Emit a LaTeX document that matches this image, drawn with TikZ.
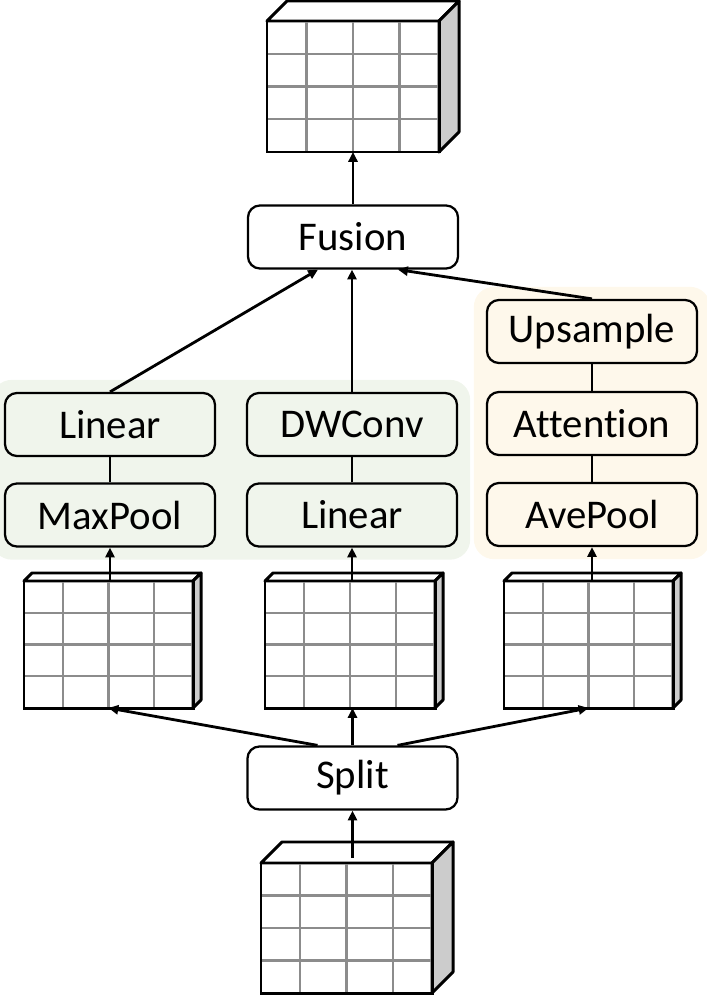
\documentclass[tikz,border=0pt]{standalone}
\usepackage{fontspec}
\setmainfont[Ligatures={NoCommon}]{Carlito}
\usetikzlibrary{arrows.meta, positioning, calc, fit, backgrounds}

\definecolor{grpgreen}{RGB}{240,245,236}
\definecolor{grporange}{RGB}{254,248,235}
\definecolor{sidegray}{RGB}{204,204,204}
\definecolor{gridgray}{RGB}{140,140,140}

% 3D faces and grid of a tensor drawn round its front face node
\newcommand{\tensorfaces}[2]{%
    \filldraw[fill=white, line width=2.1pt, line join=round]
        (#1.north west) -- ++(#2,-#2) -- ($(#1.north east)+(#2,-#2)$) -- (#1.north east) -- cycle;
    \filldraw[fill=sidegray, line width=2.1pt, line join=round]
        (#1.north east) -- ++(#2,-#2) -- ($(#1.south east)+(#2,-#2)$) -- (#1.south east) -- cycle;
    \foreach \f in {0.23,0.5,0.77}
        \draw[gridgray, line width=1.5pt] ($(#1.south west)!\f!(#1.south east)$) -- ($(#1.north west)!\f!(#1.north east)$);
    \foreach \f in {0.25,0.5,0.75}
        \draw[gridgray, line width=1.5pt] ($(#1.south west)!\f!(#1.north west)$) -- ($(#1.south east)!\f!(#1.north east)$);
    \draw[line width=2.1pt] (#1.south west) rectangle (#1.north east);
}

\begin{document}
\begin{tikzpicture}[x=0.025cm, y=-0.025cm,
        box/.style={draw, line width=1.6pt, rounded corners=0.3cm, inner sep=0pt,
                    minimum width=5.25cm, minimum height=1.575cm,
                    font=\fontsize{29}{34}\selectfont},
        tensor/.style={fill=white, inner sep=0pt, outer sep=0pt},
        grp/.style={rounded corners=0.5cm, inner sep=0.3cm, draw=none},
        arr/.style={-{Triangle[length=7pt, width=6.5pt]}, line width=2pt},
        link/.style={line width=1.6pt},
    ]
    \useasboundingbox (0,0) rectangle (706,997);

    % ---- Tensors ----
    \node[tensor, minimum width=4.3cm, minimum height=3.275cm] (tout) at (353, 86.5) {};
    \node[tensor, minimum width=4.225cm, minimum height=3.175cm] (tinl) at (108.5, 644.5) {};
    \node[tensor, minimum width=4.25cm, minimum height=3.175cm] (tinm) at (350, 644.5) {};
    \node[tensor, minimum width=4.225cm, minimum height=3.175cm] (tinr) at (588.5, 644.5) {};
    \node[tensor, minimum width=4.275cm, minimum height=3.25cm] (tin) at (346.5, 928) {};
    \tensorfaces{tout}{20}
    \tensorfaces{tinl}{8}
    \tensorfaces{tinm}{8}
    \tensorfaces{tinr}{8}
    \tensorfaces{tin}{21}

    % ---- Operations ----
    \node[box, fill=white] (fusion) at (353, 237) {Fusion};
    \node[box, fill=white] (split) at (352.5, 778) {Split};

    \node[box, fill=grpgreen] (linl) at (110, 424.5) {Linear};
    \node[box, fill=grpgreen] (maxpool) at (110, 515) {MaxPool};
    \node[box, fill=grpgreen] (dwconv) at (352, 424.5) {DWConv};
    \node[box, fill=grpgreen] (linm) at (352, 515) {Linear};

    \node[box, fill=grporange] (upsample) at (592, 331.5) {Upsample};
    \node[box, fill=grporange] (attention) at (592, 423.5) {Attention};
    \node[box, fill=grporange] (avepool) at (592, 514.5) {AvePool};

    % ---- Group backgrounds ----
    \begin{scope}[on background layer]
        \node[grp, fill=grpgreen, fit=(linl)(maxpool)(dwconv)(linm)] (greengrp) {};
        \node[grp, fill=grporange, fit=(upsample)(avepool)] (orangegrp) {};
    \end{scope}

    % ---- Connections ----
    \draw[arr] ($(tin.north -| split.south)+(0,-5)$) -- (split.south);
    \draw[arr] ($(split.north)+(-35,0)$) -- (tinl.south);
    \draw[arr] (split.north) -- (split.north |- tinm.south);
    \draw[arr] ($(split.north)+(45,0)$) -- (tinr.south);

    \draw[arr] (maxpool.south |- tinl.north) -- (maxpool.south);
    \draw[arr] (linm.south |- tinm.north) -- (linm.south);
    \draw[arr] (avepool.south |- tinr.north) -- (avepool.south);

    \draw[link] (maxpool) -- (linl);
    \draw[link] (linm) -- (dwconv);
    \draw[link] (avepool) -- (attention) -- (upsample);

    \draw[arr] (linl.north) -- ($(fusion.south)+(-35,0)$);
    \draw[arr] (dwconv.north) -- (dwconv.north |- fusion.south);
    \draw[arr] (upsample.north) -- ($(fusion.south)+(45,0)$);

    \draw[arr] (fusion.north) -- (tout.south);

\end{tikzpicture}
\end{document}
